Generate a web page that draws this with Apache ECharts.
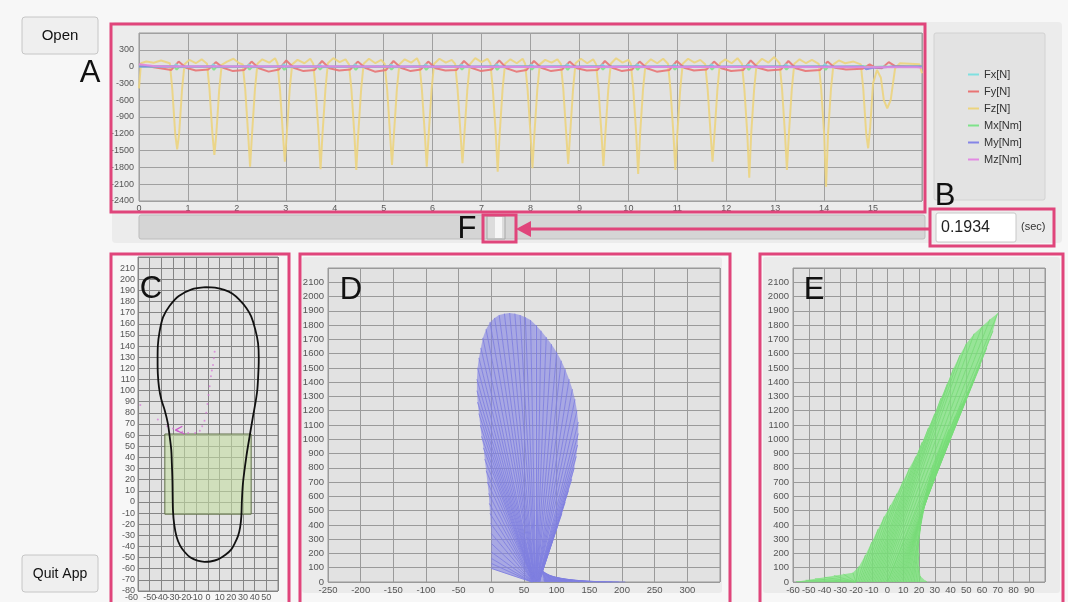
<!DOCTYPE html>
<html>
<head>
<meta charset="utf-8">
<script src="https://cdn.jsdelivr.net/npm/echarts@6/dist/echarts.min.js"></script>
<style>
  html, body { margin: 0; padding: 0; background: #f7f7f7; }
  #chart { width: 1068px; height: 602px; }
</style>
</head>
<body>
<div id="chart"></div>
<script>
// ---- A: force / moment time series  [t (sec), value]
const fzData = [
  [0,-390],[0.04,60],[0.15,90],[0.3,70],[0.45,110],
  [0.63,60],[0.68,-400],[0.74,-1200],[0.78,-1476],[0.82,-1200],[0.88,-400],[0.93,40],[1.03,120],[1.16,60],[1.28,130],
  [1.39,50],[1.44,-400],[1.50,-1200],[1.54,-1577],[1.58,-1200],[1.64,-400],[1.69,30],[1.80,90],[1.93,140],[2.05,60],
  [2.12,40],[2.17,-400],[2.23,-1200],[2.27,-1786],[2.31,-1200],[2.37,-400],[2.42,50],[2.52,130],[2.66,70],[2.78,150],
  [2.83,60],[2.88,-400],[2.94,-1200],[2.98,-1696],[3.02,-1200],[3.08,-400],[3.13,40],[3.24,120],[3.38,60],[3.50,140],
  [3.56,50],[3.61,-400],[3.67,-1200],[3.71,-1833],[3.75,-1200],[3.81,-400],[3.86,60],[3.97,150],[4.10,80],[4.22,130],
  [4.29,40],[4.34,-400],[4.40,-1200],[4.44,-1845],[4.48,-1200],[4.54,-400],[4.59,50],[4.70,140],[4.83,60],[4.95,120],
  [5.02,50],[5.07,-400],[5.13,-1200],[5.17,-1756],[5.21,-1200],[5.27,-400],[5.32,40],[5.43,130],[5.56,70],[5.68,150],
  [5.73,60],[5.78,-400],[5.84,-1200],[5.88,-1786],[5.92,-1200],[5.98,-400],[6.03,50],[6.14,140],[6.27,70],[6.39,120],
  [6.46,50],[6.51,-400],[6.57,-1200],[6.61,-1726],[6.65,-1200],[6.71,-400],[6.76,40],[6.87,150],[7.00,80],[7.12,140],
  [7.18,60],[7.23,-400],[7.29,-1200],[7.33,-1875],[7.37,-1200],[7.43,-400],[7.48,50],[7.59,130],[7.72,60],[7.84,140],
  [7.89,50],[7.94,-400],[8.00,-1200],[8.04,-1815],[8.08,-1200],[8.14,-400],[8.19,40],[8.30,120],[8.43,70],[8.55,130],
  [8.62,50],[8.67,-400],[8.73,-1200],[8.77,-1738],[8.81,-1200],[8.87,-400],[8.92,60],[9.03,140],[9.16,60],[9.28,130],
  [9.34,40],[9.39,-400],[9.45,-1200],[9.49,-1774],[9.53,-1200],[9.59,-400],[9.64,50],[9.75,150],[9.88,70],[10.00,120],
  [10.05,50],[10.10,-400],[10.16,-1200],[10.20,-1917],[10.24,-1200],[10.30,-400],[10.35,40],[10.46,130],[10.59,60],[10.71,140],
  [10.81,50],[10.86,-400],[10.92,-1200],[10.96,-1845],[11.00,-1200],[11.06,-400],[11.11,50],[11.22,140],[11.35,70],[11.47,120],
  [11.57,40],[11.62,-400],[11.68,-1200],[11.72,-1696],[11.76,-1200],[11.82,-400],[11.87,60],[11.98,130],[12.11,60],[12.23,150],
  [12.32,50],[12.37,-400],[12.43,-1200],[12.47,-1982],[12.51,-1200],[12.57,-400],[12.62,40],[12.73,140],[12.86,70],[12.98,170],
  [13.09,60],[13.14,-400],[13.20,-1200],[13.24,-1845],[13.28,-1200],[13.34,-400],[13.39,50],[13.50,130],[13.63,60],[13.75,120],
  [13.89,50],[13.94,-400],[14.00,-1200],[14.04,-2143],[14.08,-1200],[14.14,-400],[14.19,40],[14.30,110],[14.43,60],[14.60,90],
  [14.75,40],[14.80,-400],[14.86,-1200],[14.90,-1458],[14.94,-1100],[15.00,-300],[15.08,-60],
  [15.16,-200],[15.22,-600],[15.29,-744],[15.36,-600],[15.45,-30],[15.55,60],[15.75,50],[15.95,40],[16.0,-120]
];
const fyData = [
  [0,40],[0.3,-10],[0.5,-40],
  [0.66,-60],[0.81,90],[0.96,-20],[1.16,-70],
  [1.42,-50],[1.57,80],[1.72,-20],[1.92,-80],
  [2.15,-60],[2.30,90],[2.45,-30],[2.65,-90],
  [2.86,-50],[3.01,110],[3.16,-20],[3.36,-80],
  [3.59,-60],[3.74,100],[3.89,-30],[4.09,-70],
  [4.32,-50],[4.47,90],[4.62,-20],[4.82,-90],
  [5.05,-60],[5.20,100],[5.35,-20],[5.55,-80],
  [5.76,-50],[5.91,90],[6.06,-30],[6.26,-70],
  [6.49,-60],[6.64,100],[6.79,-20],[6.99,-80],
  [7.21,-50],[7.36,110],[7.51,-30],[7.71,-90],
  [7.92,-60],[8.07,100],[8.22,-20],[8.42,-80],
  [8.65,-50],[8.80,90],[8.95,-30],[9.15,-70],
  [9.37,-60],[9.52,100],[9.67,-20],[9.87,-80],
  [10.08,-50],[10.23,90],[10.38,-30],[10.58,-90],
  [10.84,-60],[10.99,100],[11.14,-20],[11.34,-70],
  [11.60,-50],[11.75,90],[11.90,-30],[12.10,-80],
  [12.35,-60],[12.50,110],[12.65,-20],[12.85,-70],
  [13.12,-50],[13.27,100],[13.42,-30],[13.62,-80],
  [13.92,-60],[14.07,90],[14.22,-20],[14.45,-50],
  [14.78,-40],[14.93,40],[15.05,-20],
  [15.18,-30],[15.32,80],[15.45,10],[15.7,0],[16,0]
];
const fxData = [
  [0,0],[0.72,0],[0.76,45],[0.81,-10],[1.48,0],[1.52,45],[1.57,-10],[2.21,0],[2.25,40],[2.30,-10],
  [2.92,0],[2.96,45],[3.01,-10],[3.65,0],[3.69,40],[3.74,-10],[4.38,0],[4.42,45],[4.47,-10],
  [5.11,0],[5.15,40],[5.20,-10],[5.82,0],[5.86,45],[5.91,-10],[6.55,0],[6.59,40],[6.64,-10],
  [7.27,0],[7.31,45],[7.36,-10],[7.98,0],[8.02,40],[8.07,-10],[8.71,0],[8.75,45],[8.80,-10],
  [9.43,0],[9.47,40],[9.52,-10],[10.14,0],[10.18,45],[10.23,-10],[10.90,0],[10.94,40],[10.99,-10],
  [11.66,0],[11.70,45],[11.75,-10],[12.41,0],[12.45,40],[12.50,-10],[13.18,0],[13.22,45],[13.27,-10],
  [13.98,0],[14.02,50],[14.07,-10],[14.84,0],[14.88,35],[14.93,-10],[15.23,0],[15.27,20],[15.32,-5],[16,0]
];
const mxData = [
  [0,0],[0.72,0],[0.77,-55],[0.82,-5],[1.48,0],[1.53,-60],[1.58,-5],[2.21,0],[2.26,-55],[2.31,-5],
  [2.92,0],[2.97,-60],[3.02,-5],[3.65,0],[3.70,-55],[3.75,-5],[4.38,0],[4.43,-60],[4.48,-5],
  [5.11,0],[5.16,-55],[5.21,-5],[5.82,0],[5.87,-60],[5.92,-5],[6.55,0],[6.60,-55],[6.65,-5],
  [7.27,0],[7.32,-60],[7.37,-5],[7.98,0],[8.03,-55],[8.08,-5],[8.71,0],[8.76,-60],[8.81,-5],
  [9.43,0],[9.48,-55],[9.53,-5],[10.14,0],[10.19,-60],[10.24,-5],[10.90,0],[10.95,-55],[11.00,-5],
  [11.66,0],[11.71,-55],[11.76,-5],[12.41,0],[12.46,-60],[12.51,-5],[13.18,0],[13.23,-55],[13.28,-5],
  [13.98,0],[14.03,-60],[14.08,-5],[14.84,0],[14.89,-40],[14.94,-5],[16,0]
];
const myData = [
  [0,0],[0.74,0],[0.78,-30],[0.84,0],[1.50,0],[1.54,-30],[1.60,0],[2.23,0],[2.27,-30],[2.33,0],
  [2.94,0],[2.98,-30],[3.04,0],[3.67,0],[3.71,-30],[3.77,0],[4.40,0],[4.44,-30],[4.50,0],
  [5.13,0],[5.17,-30],[5.23,0],[5.84,0],[5.88,-30],[5.94,0],[6.57,0],[6.61,-30],[6.67,0],
  [7.29,0],[7.33,-30],[7.39,0],[8.00,0],[8.04,-30],[8.10,0],[8.73,0],[8.77,-30],[8.83,0],
  [9.45,0],[9.49,-30],[9.55,0],[10.16,0],[10.20,-30],[10.26,0],[10.92,0],[10.96,-30],[11.02,0],
  [11.68,0],[11.72,-30],[11.78,0],[12.43,0],[12.47,-30],[12.53,0],[13.20,0],[13.24,-30],[13.30,0],
  [14.00,0],[14.04,-30],[14.10,0],[14.80,0],[14.86,-50],[15.00,-20],[15.25,-10],[15.40,0],[16,0]
];
const mzData = [[0,40],[0.3,10],[0.6,0],[4,0],[8,-5],[12,-8],[15.9,-12],[16,-20]];

const seriesNames = ['Fx[N]', 'Fy[N]', 'Fz[N]', 'Mx[Nm]', 'My[Nm]', 'Mz[Nm]'];
const seriesColors = ['#7fe0e0', '#e87474', '#ecd47e', '#7ee28a', '#8585e6', '#e38ae3'];

// ---- C: foot outline, COP box, COP trace  [x (mm), y (mm)]
const footOutline = [
  [-2,193],[6,192.5],[14,190.5],[21,187],[27,181.5],[33,174],[37,166.6],[40.5,155],[42.9,142.7],[43.5,130],
  [43.4,121.8],[42.3,101],[40.5,88],[38.6,77],[35.7,59],[32.9,41],[30,17.2],[29,0],[28.6,-12.7],[27.5,-23],
  [25.7,-30.7],[23,-37],[20,-42.6],[15,-47.5],[8.6,-51.6],[2,-53.5],[-3,-53.8],[-9,-52.8],[-15,-50],[-20,-45],
  [-24,-39],[-27,-31],[-29,-20],[-30,-8],[-30.3,5],[-30.5,20],[-31,35],[-31.5,47],[-33,60],[-34.5,71],
  [-37,82],[-40,92],[-42,103],[-43,115],[-43.2,128],[-43,140],[-41.5,153],[-38.5,166],[-33,176],[-25,185],
  [-14,191],[-2,193]
];
const copBox = [-37, -11, 37, 61]; // x0, y0, x1, y1
const copPath = [
  [-58,87],[-43,74],[-35,68],[-30,66],[-26,64],[-22,63],[-17,62],[-11,62],[-7,64],[-5,68],
  [-3,73],[-1.5,80],[-0.5,88],[0.5,96],[1.4,104],[2.5,113],[3.3,118],[4.3,123],[5,129],[5.7,135]
];
const copMark = [[-20,61],[-28,64.5],[-22,68]];

// ---- D: force vectors, base x on the floor and tip (x, Fz)
const dBaseX = [62,62,62,63,63,63,64,64,64,64,65,65,65,65,65,65,65,66,66,66,66,66,66,66,67,67,67,67,67,67,
  68,68,68,68,68,69,69,69,69,69,70,70,70,70,70,71,71,71,71,71,72,72,72,72,73,73,73,74,74,
  85,95,105,115,125,135,145,155,165,175,185,195,205];
const dTipX = [0,0,0,0,0,0,-1,-2,-3,-4,-6,-8,-10,-12,-15,-17,-19,-21,-22,-22,-21,-19,-16,-13,-8,-2,5,12,20,28,
  36,44,52,60,68,76,84,92,100,107,113,119,124,128,131,133,133,132,130,127,123,118,113,108,102,96,90,84,79,
  76,76,77,77,78,78,79,79,80,80,80,81,81];
const dTipY = [95,130,165,210,270,340,410,480,550,620,700,780,860,940,1020,1100,1180,1260,1340,1420,1500,1570,1640,1710,1770,1820,1850,1870,1880,1884,
  1880,1870,1855,1835,1800,1760,1715,1665,1610,1550,1490,1420,1350,1280,1200,1120,1040,960,880,800,720,640,560,480,400,320,250,180,120,
  100,90,80,70,60,52,44,36,28,20,13,8,4];

// ---- E: moment vectors, base x on the floor and tip (x, Fz)
const eBaseX = [-20,-20,-20,-20,-20,-20,-20,
  -20,-19,-18,-17,-16,-15,-14,-13,-12,-11,-10,-9,-8,-7,-6,-5,-4,-3,-2,-1,0,0,
  1,2,3,4,5,6,7,8,9,10,11,12,13,14,15,16,17,18,19,20,25];
const eTipX = [-58,-52,-46,-40,-34,-28,-22,
  -18,-14,-10,-6,-2,2,6,10,14,18,22,26,30,34,38,42,46,50,55,60,65,70,
  67,63,59,55,51,47,43,39,35,32,29,27,25,24,22,21,20,20,20,21,24];
const eTipY = [2,12,22,33,44,55,65,
  110,190,280,370,460,540,620,710,800,880,980,1080,1180,1290,1390,1500,1590,1670,1740,1790,1840,1883,
  1760,1640,1520,1420,1330,1250,1160,1070,990,900,820,740,650,560,470,380,290,200,110,40,8];

// axis ranges: [min, max, interval]
const aX = [0, 16, 1], aY = [-2400, 600, 300];
const cX = [-60, 60, 10], cY = [-80, 220, 10];
const dX = [-250, 350, 50], dY = [0, 2200, 100];
const eX = [-60, 100, 10], eY = [0, 2200, 100];

const FONT = '"Liberation Sans", Arial, sans-serif';
const PINK = '#e0457b';

function axis(gridIndex, r, fontSize, margin, gridColor, minAlign) {
  return {
    type: 'value', gridIndex: gridIndex, min: r[0], max: r[1], interval: r[2],
    axisLine: { show: false }, axisTick: { show: false },
    splitLine: { show: true, lineStyle: { color: gridColor, width: 1 } },
    axisLabel: {
      fontFamily: FONT, fontSize: fontSize, color: '#555', margin: margin,
      showMinLabel: true, showMaxLabel: true, hideOverlap: false,
      alignMinLabel: minAlign || null,
      formatter: (v) => (v === r[1] ? '' : String(v))
    }
  };
}

function timeSeries(i, data) {
  return {
    name: seriesNames[i], type: 'line', xAxisIndex: 0, yAxisIndex: 0, data: data,
    showSymbol: false, symbol: 'none',
    lineStyle: { width: 2, color: seriesColors[i], opacity: 0.9 },
    itemStyle: { color: seriesColors[i] }
  };
}

function fanQuads(base, tx, ty) {
  const out = [];
  for (let i = 0; i < base.length - 1; i++) {
    out.push([base[i], tx[i], ty[i], base[i + 1], tx[i + 1], ty[i + 1]]);
  }
  return out;
}

function fanSeries(idx, base, tx, ty, fill) {
  return {
    type: 'custom', xAxisIndex: idx, yAxisIndex: idx, silent: true,
    data: fanQuads(base, tx, ty),
    renderItem: (params, api) => {
      const pts = [
        api.coord([api.value(0), 0]),
        api.coord([api.value(1), api.value(2)]),
        api.coord([api.value(4), api.value(5)]),
        api.coord([api.value(3), 0])
      ];
      return { type: 'polygon', shape: { points: pts }, style: { fill: fill } };
    }
  };
}

function vectorLines(idx, base, tx, ty, color) {
  return {
    type: 'lines', coordinateSystem: 'cartesian2d', xAxisIndex: idx, yAxisIndex: idx, silent: true,
    lineStyle: { color: color, width: 1, opacity: 0.9 },
    data: base.map((b, i) => ({ coords: [[b, 0], [tx[i], ty[i]]] }))
  };
}

const gridBase = { show: true, backgroundColor: '#e2e2e2', borderColor: '#999', borderWidth: 1 };

function txt(s, x, y, size, extra) {
  return Object.assign({
    type: 'text', z: 100,
    style: { text: s, x: x, y: y, font: size + 'px ' + FONT, fill: '#111',
      textAlign: 'center', textVerticalAlign: 'middle', align: 'center', verticalAlign: 'middle' }
  }, extra || {});
}
function box(x, y, w, h, fill, stroke, z, r) {
  return { type: 'rect', z: z, shape: { x: x, y: y, width: w, height: h, r: r || 0 },
    style: { fill: fill, stroke: stroke, lineWidth: stroke ? 1 : 0 } };
}
function frame(x, y, w, h) {
  return { type: 'rect', z: 90, shape: { x: x, y: y, width: w, height: h },
    style: { fill: 'none', stroke: PINK, lineWidth: 3 } };
}

const chart = echarts.init(document.getElementById('chart'));
chart.setOption({
  animation: false,
  backgroundColor: '#f7f7f7',
  grid: [
    Object.assign({ left: 139, top: 33, width: 783, height: 168 }, gridBase),
    Object.assign({ left: 138, top: 257, width: 140, height: 336 }, gridBase, { borderColor: '#888' }),
    Object.assign({ left: 328, top: 268, width: 392, height: 314 }, gridBase),
    Object.assign({ left: 793, top: 268, width: 252, height: 314 }, gridBase)
  ],
  xAxis: [axis(0, aX, 9, 3, '#a0a0a0'), axis(1, cX, 9, 2, '#858585', 'right'), axis(2, dX, 9.5, 3, '#9a9a9a'), axis(3, eX, 9.5, 3, '#9a9a9a')],
  yAxis: [axis(0, aY, 9, 5, '#a0a0a0'), axis(1, cY, 9, 3, '#858585'), axis(2, dY, 9.5, 4, '#9a9a9a'), axis(3, eY, 9.5, 4, '#9a9a9a')],
  legend: {
    data: seriesNames, orient: 'vertical', left: 963, top: 64, icon: 'rect',
    itemWidth: 11, itemHeight: 2, itemGap: 6, selectedMode: false,
    textStyle: { fontFamily: FONT, fontSize: 11, color: '#333' }
  },
  series: [
    timeSeries(2, fzData),
    timeSeries(1, fyData),
    timeSeries(0, fxData),
    timeSeries(3, mxData),
    timeSeries(4, myData),
    timeSeries(5, mzData),
    {
      type: 'line', xAxisIndex: 1, yAxisIndex: 1, data: footOutline, smooth: 0.3,
      showSymbol: false, symbol: 'none', lineStyle: { color: '#111', width: 1.8 },
      markArea: {
        silent: true,
        itemStyle: { color: 'rgba(196,222,164,0.6)', borderColor: '#5f6e48', borderWidth: 1 },
        data: [[{ coord: [copBox[0], copBox[1]] }, { coord: [copBox[2], copBox[3]] }]]
      }
    },
    { type: 'scatter', xAxisIndex: 1, yAxisIndex: 1, data: copPath, symbolSize: 2,
      itemStyle: { color: '#d670d6', opacity: 0.7 } },
    { type: 'line', xAxisIndex: 1, yAxisIndex: 1, data: copMark, showSymbol: false, symbol: 'none',
      lineStyle: { color: '#c85ac8', width: 1.2 } },
    fanSeries(2, dBaseX, dTipX, dTipY, 'rgba(130,130,228,0.6)'),
    vectorLines(2, dBaseX, dTipX, dTipY, '#7f7fe0'),
    fanSeries(3, eBaseX, eTipX, eTipY, 'rgba(126,228,126,0.75)'),
    vectorLines(3, eBaseX, eTipX, eTipY, '#78dc78')
  ],
  graphic: [
    // panels
    box(112, 22, 950, 221, '#ececec', null, -10, 4),
    box(934, 33, 111, 167, '#e3e3e3', '#d2d2d2', -5, 2),
    box(302, 257, 420, 336, '#ebebeb', null, -10, 3),
    box(763, 257, 297, 336, '#ebebeb', null, -10, 3),
    // buttons
    box(22, 17, 76, 37, '#efefef', '#c6c6c6', 10, 3),
    txt('Open', 60, 36, 15, {}),
    box(22, 555, 76, 37, '#efefef', '#c6c6c6', 10, 3),
    txt('Quit App', 60, 574, 14, {}),
    // slider
    box(139, 215, 786, 24, '#d5d5d5', '#bdbdbd', 10, 2),
    box(487, 216, 18, 23, '#dcdcdc', '#a8a8a8', 11, 0),
    box(495, 217, 7, 21, '#f6f6f6', null, 12, 0),
    // time field
    box(936, 213, 80, 29, '#ffffff', '#c8c8c8', 10, 2),
    { type: 'text', z: 100, style: { text: '0.1934', x: 941, y: 228, font: '16px ' + FONT, fill: '#222',
      textAlign: 'left', textVerticalAlign: 'middle', align: 'left', verticalAlign: 'middle' } },
    { type: 'text', z: 100, style: { text: '(sec)', x: 1021, y: 227, font: '11px ' + FONT, fill: '#333',
      textAlign: 'left', textVerticalAlign: 'middle', align: 'left', verticalAlign: 'middle' } },
    // frames
    frame(111, 24, 814, 188),
    frame(930, 209, 124, 37),
    frame(483, 215, 33, 27),
    frame(111, 254, 178, 352),
    frame(300, 254, 430, 352),
    frame(760, 254, 303, 352),
    // arrow
    { type: 'line', z: 95, shape: { x1: 929, y1: 229, x2: 528, y2: 229 }, style: { stroke: PINK, lineWidth: 3 } },
    { type: 'polygon', z: 95, shape: { points: [[516, 229], [531, 221], [531, 237]] }, style: { fill: PINK } },
    // panel letters
    txt('A', 90, 73, 31),
    txt('B', 945, 196, 31),
    txt('F', 467, 229, 31),
    txt('C', 151, 289, 31),
    txt('D', 351, 290, 31),
    txt('E', 814, 290, 31)
  ]
});
</script>
</body>
</html>
